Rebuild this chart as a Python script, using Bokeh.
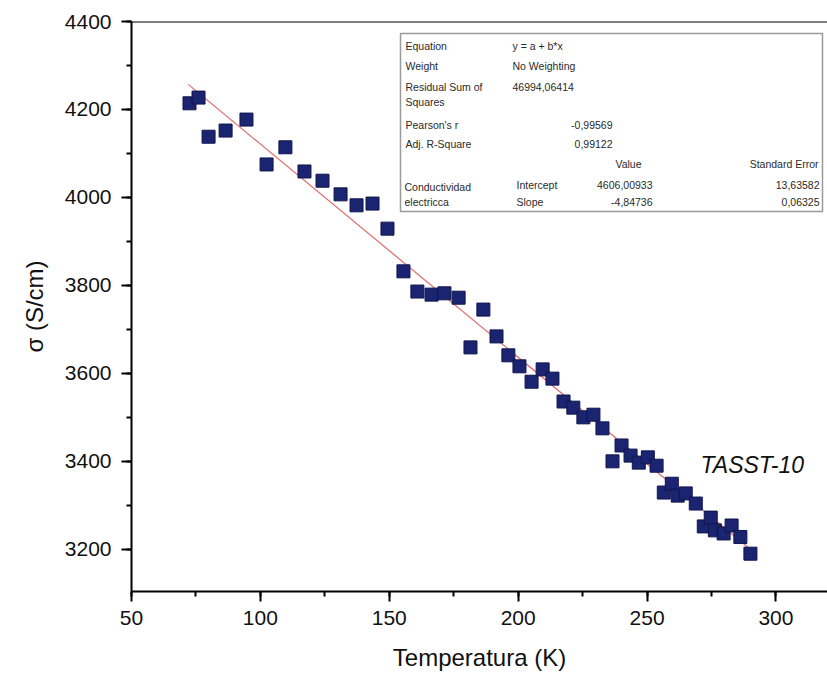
from bokeh.plotting import figure
from bokeh.models import SingleIntervalTicker, Span, Range1d, ColumnDataSource
from bokeh.core.properties import value
from bokeh.embed import file_html
from bokeh.resources import INLINE

# Conductivity vs temperature, sample TASST-10
temperature = [72.5, 76.0, 79.9, 86.5, 94.6, 102.4, 109.7, 117.1, 124.1, 131.1,
               137.3, 143.5, 149.3, 155.5, 160.9, 166.4, 171.4, 176.9, 181.5, 186.5,
               191.6, 196.2, 200.5, 205.2, 209.5, 213.3, 217.6, 221.4, 225.3, 229.2,
               232.7, 236.6, 240.1, 243.6, 246.8, 250.3, 253.7, 256.5, 259.6, 261.9,
               265.0, 268.9, 272.0, 274.7, 276.3, 279.7, 282.8, 286.2, 290.1]
sigma = [4214, 4227, 4138, 4152, 4177, 4075, 4114, 4059, 4038, 4007,
         3982, 3986, 3929, 3832, 3786, 3779, 3782, 3772, 3659, 3745,
         3684, 3641, 3616, 3581, 3609, 3588, 3536, 3522, 3500, 3506,
         3475, 3400, 3436, 3413, 3397, 3409, 3390, 3329, 3349, 3322,
         3327, 3304, 3252, 3272, 3243, 3236, 3254, 3228, 3190]

# Linear fit results (Origin report)
intercept = 4606.00933
slope = -4.84736
fit_rows_left = ["Equation", "Weight", "Residual Sum of", "Squares",
                 "Pearson's r", "Adj. R-Square"]
fit_rows_mid = ["y = a + b*x", "No Weighting", "46994,06414"]
pearson_r = "-0,99569"
adj_r2 = "0,99122"
param_names = ["Intercept", "Slope"]
param_values = ["4606,00933", "-4,84736"]
param_errors = ["13,63582", "0,06325"]

W, H = 827, 688
FL, FT, FR, FB = 131, 21, 827, 591   # plot frame in pixels
X0, X1 = 50, 320
Y0, Y1 = 3104, 4400


def dx(px):
    return X0 + (px - FL) / (FR - FL) * (X1 - X0)


def dy(py):
    return Y1 - (py - FT) / (FB - FT) * (Y1 - Y0)


p = figure(width=W, height=H, output_backend="svg", toolbar_location=None,
           x_range=Range1d(X0, X1), y_range=Range1d(Y0, Y1),
           min_border_left=FL, min_border_right=0, min_border_top=FT,
           min_border_bottom=H - FB)
p.outline_line_color = None
p.xgrid.visible = False
p.ygrid.visible = False
p.background_fill_color = "white"
p.border_fill_color = "white"

p.xaxis.ticker = SingleIntervalTicker(interval=50, num_minor_ticks=2)
p.yaxis.ticker = SingleIntervalTicker(interval=200, num_minor_ticks=2)
for ax in (p.xaxis, p.yaxis):
    ax.axis_line_width = 2
    ax.major_tick_line_width = 2
    ax.minor_tick_line_width = 2
    ax.major_tick_in = 0
    ax.major_tick_out = 10
    ax.minor_tick_in = 0
    ax.minor_tick_out = 5
    ax.major_label_text_font = "Liberation Sans"
    ax.major_label_text_font_size = "21px"
    ax.major_label_text_color = "#111111"
    ax.axis_label_text_font = "Liberation Sans"
    ax.axis_label_text_font_size = "24px"
    ax.axis_label_text_font_style = "normal"
    ax.axis_label_text_color = "#111111"
p.xaxis.axis_label = "Temperatura (K)"
p.yaxis.axis_label = "σ (S/cm)"
p.xaxis.major_label_standoff = 9
p.xaxis.axis_label_standoff = 16
p.yaxis.major_label_standoff = 10
p.yaxis.axis_label_standoff = 14

p.add_layout(Span(location=Y1, dimension="width", line_color="black", line_width=2))

# fitted line
fx = [min(temperature) - 0.5, max(temperature) + 1.5]
fy = [intercept + slope * t for t in fx]
p.line(fx, fy, line_color="#e06a6a", line_width=1.2)

# measured points
src = ColumnDataSource(dict(x=temperature, y=sigma))
p.scatter("x", "y", source=src, marker="square", size=13,
          fill_color="#1b2470", line_color="#10164d", line_width=1)

p.text(x=[dx(700)], y=[dy(464)], text=["TASST-10"],
       text_font=value("Liberation Sans"), text_font_size="23px",
       text_font_style="italic", text_color="#111111",
       text_baseline="middle", text_align="left")

# fit report table
p.quad(left=[dx(400)], right=[dx(822)], top=[dy(33)], bottom=[dy(211)],
       fill_color="white", line_color="#9a9a9a", line_width=1.5)

tf = value("Liberation Sans")
ts = "10.5px"
tc = "#2a2a2a"
left_y = [45, 65, 86, 101, 124, 143]
p.text(x=[dx(405)] * len(fit_rows_left), y=[dy(v) for v in left_y],
       text=fit_rows_left, text_font=tf, text_font_size=ts, text_color=tc,
       text_baseline="middle")
p.text(x=[dx(512)] * 3, y=[dy(v) for v in [45, 65, 86]], text=fit_rows_mid,
       text_font=tf, text_font_size=ts, text_color=tc, text_baseline="middle")
p.text(x=[dx(612)] * 2, y=[dy(124), dy(143)], text=[pearson_r, adj_r2],
       text_font=tf, text_font_size=ts, text_color=tc, text_baseline="middle",
       text_align="right")
p.text(x=[dx(641), dx(818)], y=[dy(163)] * 2, text=["Value", "Standard Error"],
       text_font=tf, text_font_size=ts, text_color=tc, text_baseline="middle",
       text_align="right")
p.text(x=[dx(404)] * 2, y=[dy(186), dy(201)], text=["Conductividad", "electricca"],
       text_font=tf, text_font_size=ts, text_color=tc, text_baseline="middle")
p.text(x=[dx(516)] * 2, y=[dy(184), dy(201)], text=param_names,
       text_font=tf, text_font_size=ts, text_color=tc, text_baseline="middle")
p.text(x=[dx(652)] * 2, y=[dy(184), dy(201)], text=param_values,
       text_font=tf, text_font_size=ts, text_color=tc, text_baseline="middle",
       text_align="right")
p.text(x=[dx(819)] * 2, y=[dy(184), dy(201)], text=param_errors,
       text_font=tf, text_font_size=ts, text_color=tc, text_baseline="middle",
       text_align="right")

open("out.html", "w").write(file_html(p, INLINE))
